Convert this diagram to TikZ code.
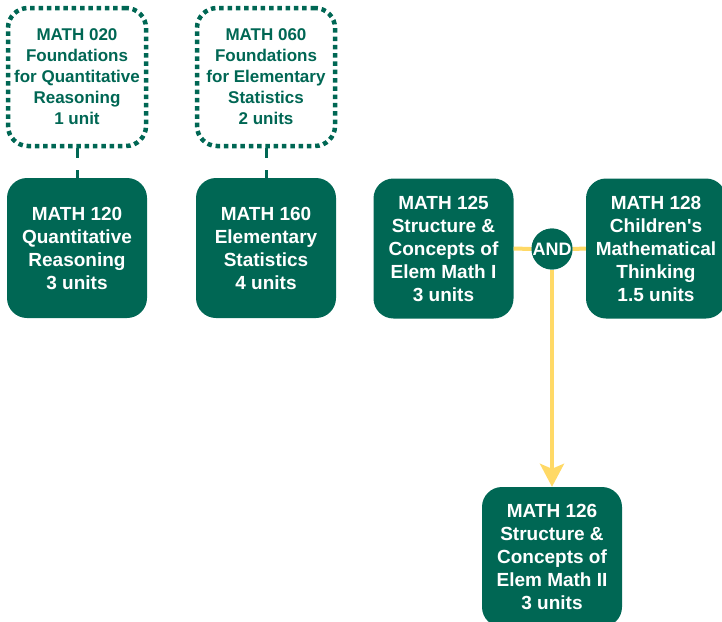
\documentclass[tikz,border=0pt]{standalone}
\usepackage{fontspec}
\setmainfont{Liberation Sans}
\usetikzlibrary{arrows.meta}
\definecolor{dgreen}{RGB}{0,103,84}
\definecolor{gold}{RGB}{255,217,102}
\begin{document}
\begin{tikzpicture}[x=1pt,y=-1pt,
  solidbox/.style={rectangle, rounded corners=20pt, fill=dgreen, draw=none,
    minimum width=140pt, minimum height=140pt, inner sep=0pt, align=center,
    text=white, font=\fontsize{19}{23}\selectfont\bfseries},
  dotbox/.style={rectangle, rounded corners=20pt, draw=dgreen, line width=4.5pt,
    dash pattern=on 4.5pt off 3.8pt, fill=white,
    minimum width=138pt, minimum height=138pt, inner sep=0pt, align=center,
    text=dgreen, font=\fontsize{17}{21}\selectfont\bfseries},
  andnode/.style={circle, fill=dgreen, minimum size=40pt, inner sep=0pt,
    text=white, font=\fontsize{18}{20}\selectfont\bfseries},
  preline/.style={draw=dgreen, line width=3pt, dash pattern=on 10pt off 12pt},
  goldline/.style={draw=gold, line width=4pt},
  goldarrow/.style={draw=gold, line width=4pt, -{Stealth[length=23pt,width=24pt,inset=5pt,fill=gold]}}
]
\useasboundingbox (0,0) rectangle (722,621);
\clip (0,0) rectangle (722,621);

\node[dotbox] (m020) at (77,77) {MATH 020\\Foundations\\for Quantitative\\Reasoning\\1 unit};
\node[dotbox] (m060) at (266,77) {MATH 060\\Foundations\\for Elementary\\Statistics\\2 units};

\node[solidbox] (m120) at (77,248) {MATH 120\\Quantitative\\Reasoning\\3 units};
\node[solidbox] (m160) at (266,248) {MATH 160\\Elementary\\Statistics\\4 units};
\node[solidbox] (m125) at (443.5,248.5) {MATH 125\\Structure \&\\Concepts of\\Elem Math I\\3 units};
\node[solidbox] (m128) at (656,248.5) {MATH 128\\Children\textquotesingle s\\Mathematical\\Thinking\\1.5 units};
\node[solidbox] (m126) at (552,557) {MATH 126\\Structure \&\\Concepts of\\Elem Math II\\3 units};

\draw[preline] (m020.south) -- (m120.north);
\draw[preline] (m060.south) -- (m160.north);

\node[andnode] (and) at (552,249) {AND};
\draw[goldline] (m125.east) -- (and.west);
\draw[goldline] (and.east) -- (m128.west);
\draw[goldarrow] (and.south) -- (m126.north);
\node[andnode] at (and) {AND};
\end{tikzpicture}
\end{document}
